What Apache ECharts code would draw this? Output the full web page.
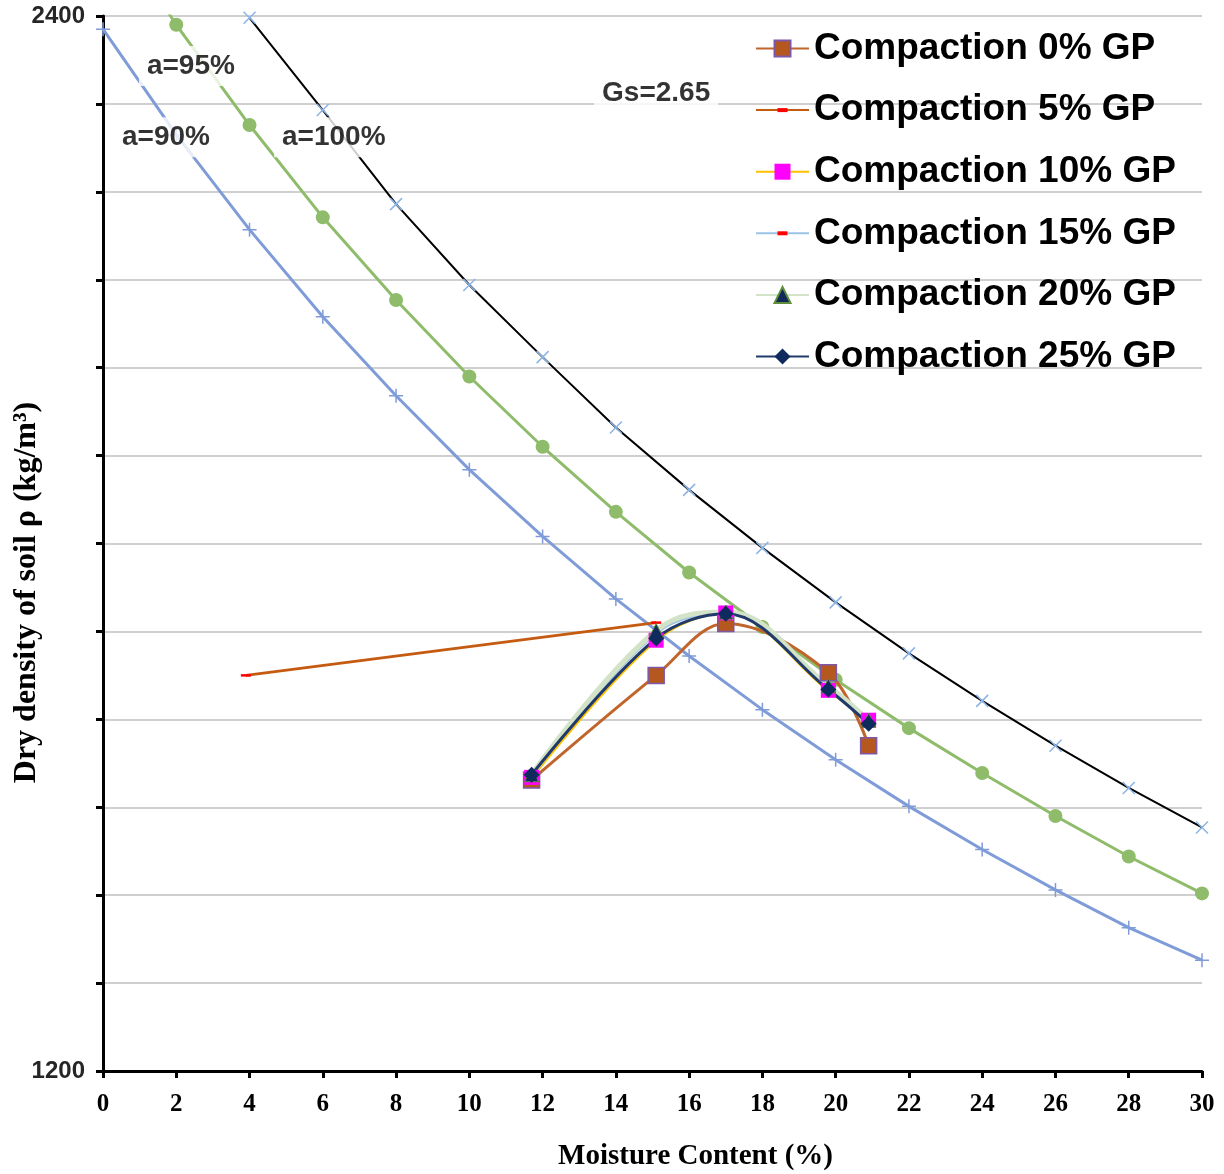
<!DOCTYPE html>
<html><head><meta charset="utf-8">
<script src="https://cdn.jsdelivr.net/npm/echarts@6/dist/echarts.min.js"></script>
<style>html,body{margin:0;padding:0;background:#fff}#c{width:1224px;height:1174px}</style>
</head><body><div id="c"></div>
<script>
// Reference curves (air-void lines)
const moisture100 = [4, 6, 8, 10, 12, 14, 16, 18, 20, 22, 24, 26, 28, 30];
const density100  = [2398, 2293, 2186, 2094, 2012, 1932, 1861, 1795, 1733, 1675, 1621, 1570, 1522, 1477];
const moisture95  = [0, 2, 4, 6, 8, 10, 12, 14, 16, 18, 20, 22, 24, 26, 28, 30];
const density95   = [2518, 2390, 2276, 2171, 2077, 1990, 1910, 1836, 1767, 1705, 1645, 1590, 1539, 1490, 1444, 1402];
const moisture90  = [0, 2, 4, 6, 8, 10, 12, 14, 16, 18, 20, 22, 24, 26, 28, 30];
const density90   = [2385, 2265, 2157, 2058, 1968, 1884, 1808, 1737, 1672, 1611, 1554, 1501, 1452, 1406, 1363, 1326];

// Compaction test series
const gpMoisture = [11.7, 15.1, 17.0, 19.8, 20.9];
const gp0  = [1531, 1650, 1709, 1653, 1570];
const gp10 = [1534, 1690, 1721, 1633, 1599];
const gp15 = [1536, 1698, 1721, 1636, 1597];
const gp20 = [1537, 1701, 1722, 1638, 1599];
const gp25 = [1537, 1692, 1720, 1634, 1595];
const gp5Moisture = [3.9, 15.1];
const gp5 = [1650, 1710];

const seriesNames = ['Compaction 0% GP','Compaction 5% GP','Compaction 10% GP','Compaction 15% GP','Compaction 20% GP','Compaction 25% GP'];

// Annotations
const noteText     = ['a=95%', 'a=90%', 'a=100%', 'Gs=2.65'];
const noteMoisture = [2.4, 1.72, 6.3, 15.1];
const noteDensity  = [2343, 2262, 2262, 2312];

const yTickLabels = [1200, 2400];

const zip = (xs, ys) => xs.map((x, i) => [x, ys[i]]);

const chart = echarts.init(document.getElementById('c'), null, {renderer: 'canvas'});
const xMark = 'path://M0,0L10,10M10,0L0,10';
const plusMark = 'path://M5,0L5,10M0,5L10,5';
// small red dash centred in a wider, invisible bounding box
const dashMark = 'path://M0,0M3,3.75L13,3.75L13,6.25L3,6.25ZM16,10';

chart.setOption({
  animation: false,
  backgroundColor: '#fff',
  grid: {left: 103, right: 22, top: 16, bottom: 103, containLabel: false, outerBoundsMode: 'none'},
  xAxis: {
    type: 'value', min: 0, max: 30, interval: 2,
    axisLine: {show: true, lineStyle: {color: '#000', width: 3}},
    axisTick: {show: true, length: 7, lineStyle: {color: '#000', width: 3}},
    axisLabel: {margin: 21, fontFamily: 'Liberation Serif', fontWeight: 'bold', fontSize: 25, color: '#000'},
    splitLine: {show: false},
    name: 'Moisture Content (%)', nameLocation: 'middle', nameGap: 71,
    nameTextStyle: {fontFamily: 'Liberation Serif', fontWeight: 'bold', fontSize: 29, color: '#000', padding: [0, 0, 0, 86]}
  },
  yAxis: {
    type: 'value', min: 1200, max: 2400, interval: 100,
    axisLine: {show: true, lineStyle: {color: '#000', width: 3}},
    axisTick: {show: true, length: 7, lineStyle: {color: '#000', width: 3}},
    axisLabel: {margin: 18, fontFamily: 'Liberation Sans', fontWeight: 'bold', fontSize: 24, color: '#262626',
      formatter: v => yTickLabels.includes(v) ? String(v) : ''},
    splitLine: {show: true, lineStyle: {color: '#bfbfbf', width: 1.5}},
    name: 'Dry density of soil ρ (kg/m³)', nameLocation: 'middle', nameGap: 60, nameMoveOverlap: false,
    nameTextStyle: {fontFamily: 'Liberation Serif', fontWeight: 'bold', fontSize: 32, color: '#000', padding: [0, 98, 0, 0]}
  },
  legend: {
    data: seriesNames,
    orient: 'vertical', left: 750, top: 25,
    itemWidth: 53, itemHeight: 20, itemGap: 24.6,
    textStyle: {fontFamily: 'Liberation Sans', fontWeight: 'bold', fontSize: 37, color: '#000'}
  },
  series: [
    {name: 'a=90', type: 'line', data: zip(moisture90, density90), symbol: plusMark, symbolSize: 14,
      lineStyle: {color: '#7f9cd8', width: 3}, itemStyle: {color: 'transparent', borderColor: '#7f9cd8', borderWidth: 1.5}, z: 2},
    {name: 'a=95', type: 'line', data: zip(moisture95, density95), symbol: 'circle', symbolSize: 14,
      lineStyle: {color: '#8fbc6b', width: 3}, itemStyle: {color: '#8fbc6b'}, z: 2},
    {name: 'a=100', type: 'line', data: zip(moisture100, density100), symbol: xMark, symbolSize: 12,
      lineStyle: {color: '#000', width: 2}, itemStyle: {color: 'transparent', borderColor: '#8cb4e6', borderWidth: 1.5}, z: 2},
    {name: seriesNames[0], type: 'line', data: zip(gpMoisture, gp0), smooth: 0.35, symbol: 'rect', symbolSize: 16,
      lineStyle: {color: '#c0662c', width: 3}, itemStyle: {color: '#b5581f', borderColor: '#7e57a8', borderWidth: 1.5}, z: 3},
    {name: seriesNames[1], type: 'line', data: zip(gp5Moisture, gp5), smooth: 0.35, symbol: dashMark, symbolSize: [16, 10],
      lineStyle: {color: '#c55a11', width: 3}, itemStyle: {color: '#ff0000'}, z: 3},
    {name: seriesNames[2], type: 'line', data: zip(gpMoisture, gp10), smooth: 0.35, symbol: 'rect', symbolSize: 15,
      lineStyle: {color: '#ffc000', width: 3}, itemStyle: {color: '#ff00ff'}, z: 3},
    {name: seriesNames[3], type: 'line', data: zip(gpMoisture, gp15), smooth: 0.35, symbol: dashMark, symbolSize: [16, 10],
      lineStyle: {color: '#9dc3e6', width: 3}, itemStyle: {color: '#ff0000'}, z: 3},
    {name: seriesNames[4], type: 'line', data: zip(gpMoisture, gp20), smooth: 0.4, symbol: 'triangle', symbolSize: 14,
      lineStyle: {color: '#d3e3c8', width: 5}, itemStyle: {color: '#10285a', borderColor: '#5f8f3a', borderWidth: 1}, z: 3},
    {name: seriesNames[5], type: 'line', data: zip(gpMoisture, gp25), smooth: 0.35, symbol: 'diamond', symbolSize: 16,
      lineStyle: {color: '#203a6b', width: 3}, itemStyle: {color: '#0f2a5c'}, z: 3},
    {name: 'notes', type: 'scatter', z: 10, symbolSize: 0, silent: true,
      data: noteText.map((t, i) => ({name: t, value: [noteMoisture[i], noteDensity[i]]})),
      label: {show: true, position: 'inside', formatter: '{b}', fontFamily: 'Liberation Sans', fontWeight: 'bold',
        fontSize: 28, color: '#000', textBorderWidth: 0, backgroundColor: '#fff', padding: [6, 8]}}
  ]
});
</script></body></html>
